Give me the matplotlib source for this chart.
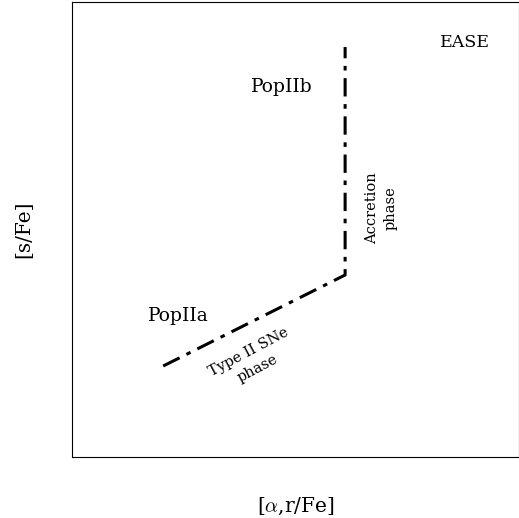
import matplotlib.pyplot as plt

plt.rcParams['font.family'] = 'DejaVu Serif'
plt.rcParams['mathtext.fontset'] = 'cm'

# path of the evolution track (axes units)
track_x = [0.204, 0.611, 0.611]
track_y = [0.20, 0.40, 0.901]

fig = plt.figure(figsize=(5.19, 5.18), dpi=100)
ax = fig.add_axes([72/519, 61/518, 447/519, 455/518])
ax.plot(track_x, track_y, color='black', lw=2.2, linestyle=(0, (6, 2.5, 1.5, 2.5)))
ax.set_xlim(0, 1)
ax.set_ylim(0, 1)
ax.set_xticks([])
ax.set_yticks([])

ax.text(0.47, 0.813, 'PopIIb', fontsize=13.5, ha='center', va='center')
ax.text(0.237, 0.31, 'PopIIa', fontsize=13.5, ha='center', va='center')
ax.text(0.88, 0.912, 'EASE', fontsize=12.5, ha='center', va='center')
ax.text(0.692, 0.547, 'Accretion\nphase', fontsize=10.5, ha='center', va='center',
        rotation=90, linespacing=1.4)
ax.text(0.405, 0.213, 'Type II SNe\nphase', fontsize=10.5, ha='center', va='center',
        rotation=28, linespacing=1.4)

ax.set_xlabel(r'[$\alpha$,r/Fe]', fontsize=14.5, labelpad=28)
ax.set_ylabel('[s/Fe]', fontsize=14.5, labelpad=28)

fig.savefig('out.png', dpi=100)
